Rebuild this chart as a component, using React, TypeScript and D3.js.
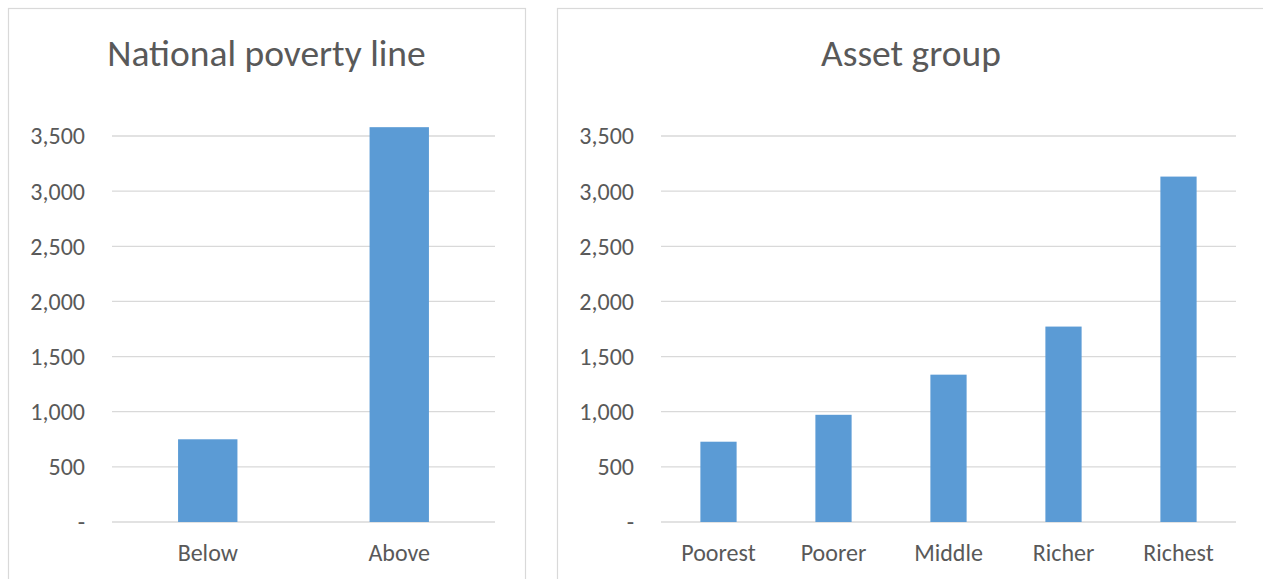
import React from "react";
import * as d3 from "d3";

const povertyCategories = ["Below", "Above"];
const povertyValues = [750, 3580];
const assetCategories = ["Poorest", "Poorer", "Middle", "Richer", "Richest"];
const assetValues = [728, 972, 1336, 1772, 3132];
const yTicks = [0, 500, 1000, 1500, 2000, 2500, 3000, 3500];

const FONT = "Carlito, 'Open Sans', 'Noto Sans', sans-serif";
const TEXT = "#595959";
const GRID = "#d9d9d9";
const BAR = "#5b9bd5";

function Panel({ x0, x1, plotL, plotR, title, cats, vals, barRatio }: any) {
  const y = d3.scaleLinear().domain([0, 3500]).range([522, 136]);
  const x = d3.scaleBand().domain(cats).range([plotL, plotR]).paddingInner(0).paddingOuter(0);
  const bw = x.bandwidth() * barRatio;
  const fmt = (v: number) => (v === 0 ? "-" : d3.format(",")(v));
  return (
    <g>
      <rect x={x0 + 0.5} y={8.5} width={x1 - x0} height={620} fill="#fff" stroke={GRID} strokeWidth={1.2} />
      <text x={(x0 + x1) / 2} y={66} textAnchor="middle" fontFamily={FONT} fontSize={37.5} fill={TEXT}>
        {title}
      </text>
      {yTicks.map((t) => (
        <g key={t}>
          <line x1={plotL} x2={plotR} y1={y(t)} y2={y(t)} stroke={GRID} strokeWidth={1.3} />
          <text x={plotL - 27} y={y(t)} dy="0.35em" textAnchor="end" fontFamily={FONT} fontSize={24} fill={TEXT}>
            {fmt(t)}
          </text>
        </g>
      ))}
      {cats.map((c: string, i: number) => (
        <g key={c}>
          <rect
            x={(x(c) as number) + (x.bandwidth() - bw) / 2}
            y={y(vals[i])}
            width={bw}
            height={y(0) - y(vals[i])}
            fill={BAR}
          />
          <text
            x={(x(c) as number) + x.bandwidth() / 2}
            y={561}
            textAnchor="middle"
            fontFamily={FONT}
            fontSize={24}
            fill={TEXT}
          >
            {c}
          </text>
        </g>
      ))}
    </g>
  );
}

export default function App() {
  return (
    <svg
      width={1263}
      height={579}
      style={{ position: "fixed", left: 0, top: 0, background: "#fff" }}
    >
      <rect x={0} y={0} width={1263} height={579} fill="#fff" />
      <Panel x0={8} x1={525} plotL={112} plotR={495} title="National poverty line" cats={povertyCategories} vals={povertyValues} barRatio={0.31} />
      <Panel x0={557} x1={1265} plotL={661} plotR={1236} title="Asset group" cats={assetCategories} vals={assetValues} barRatio={0.315} />
    </svg>
  );
}
